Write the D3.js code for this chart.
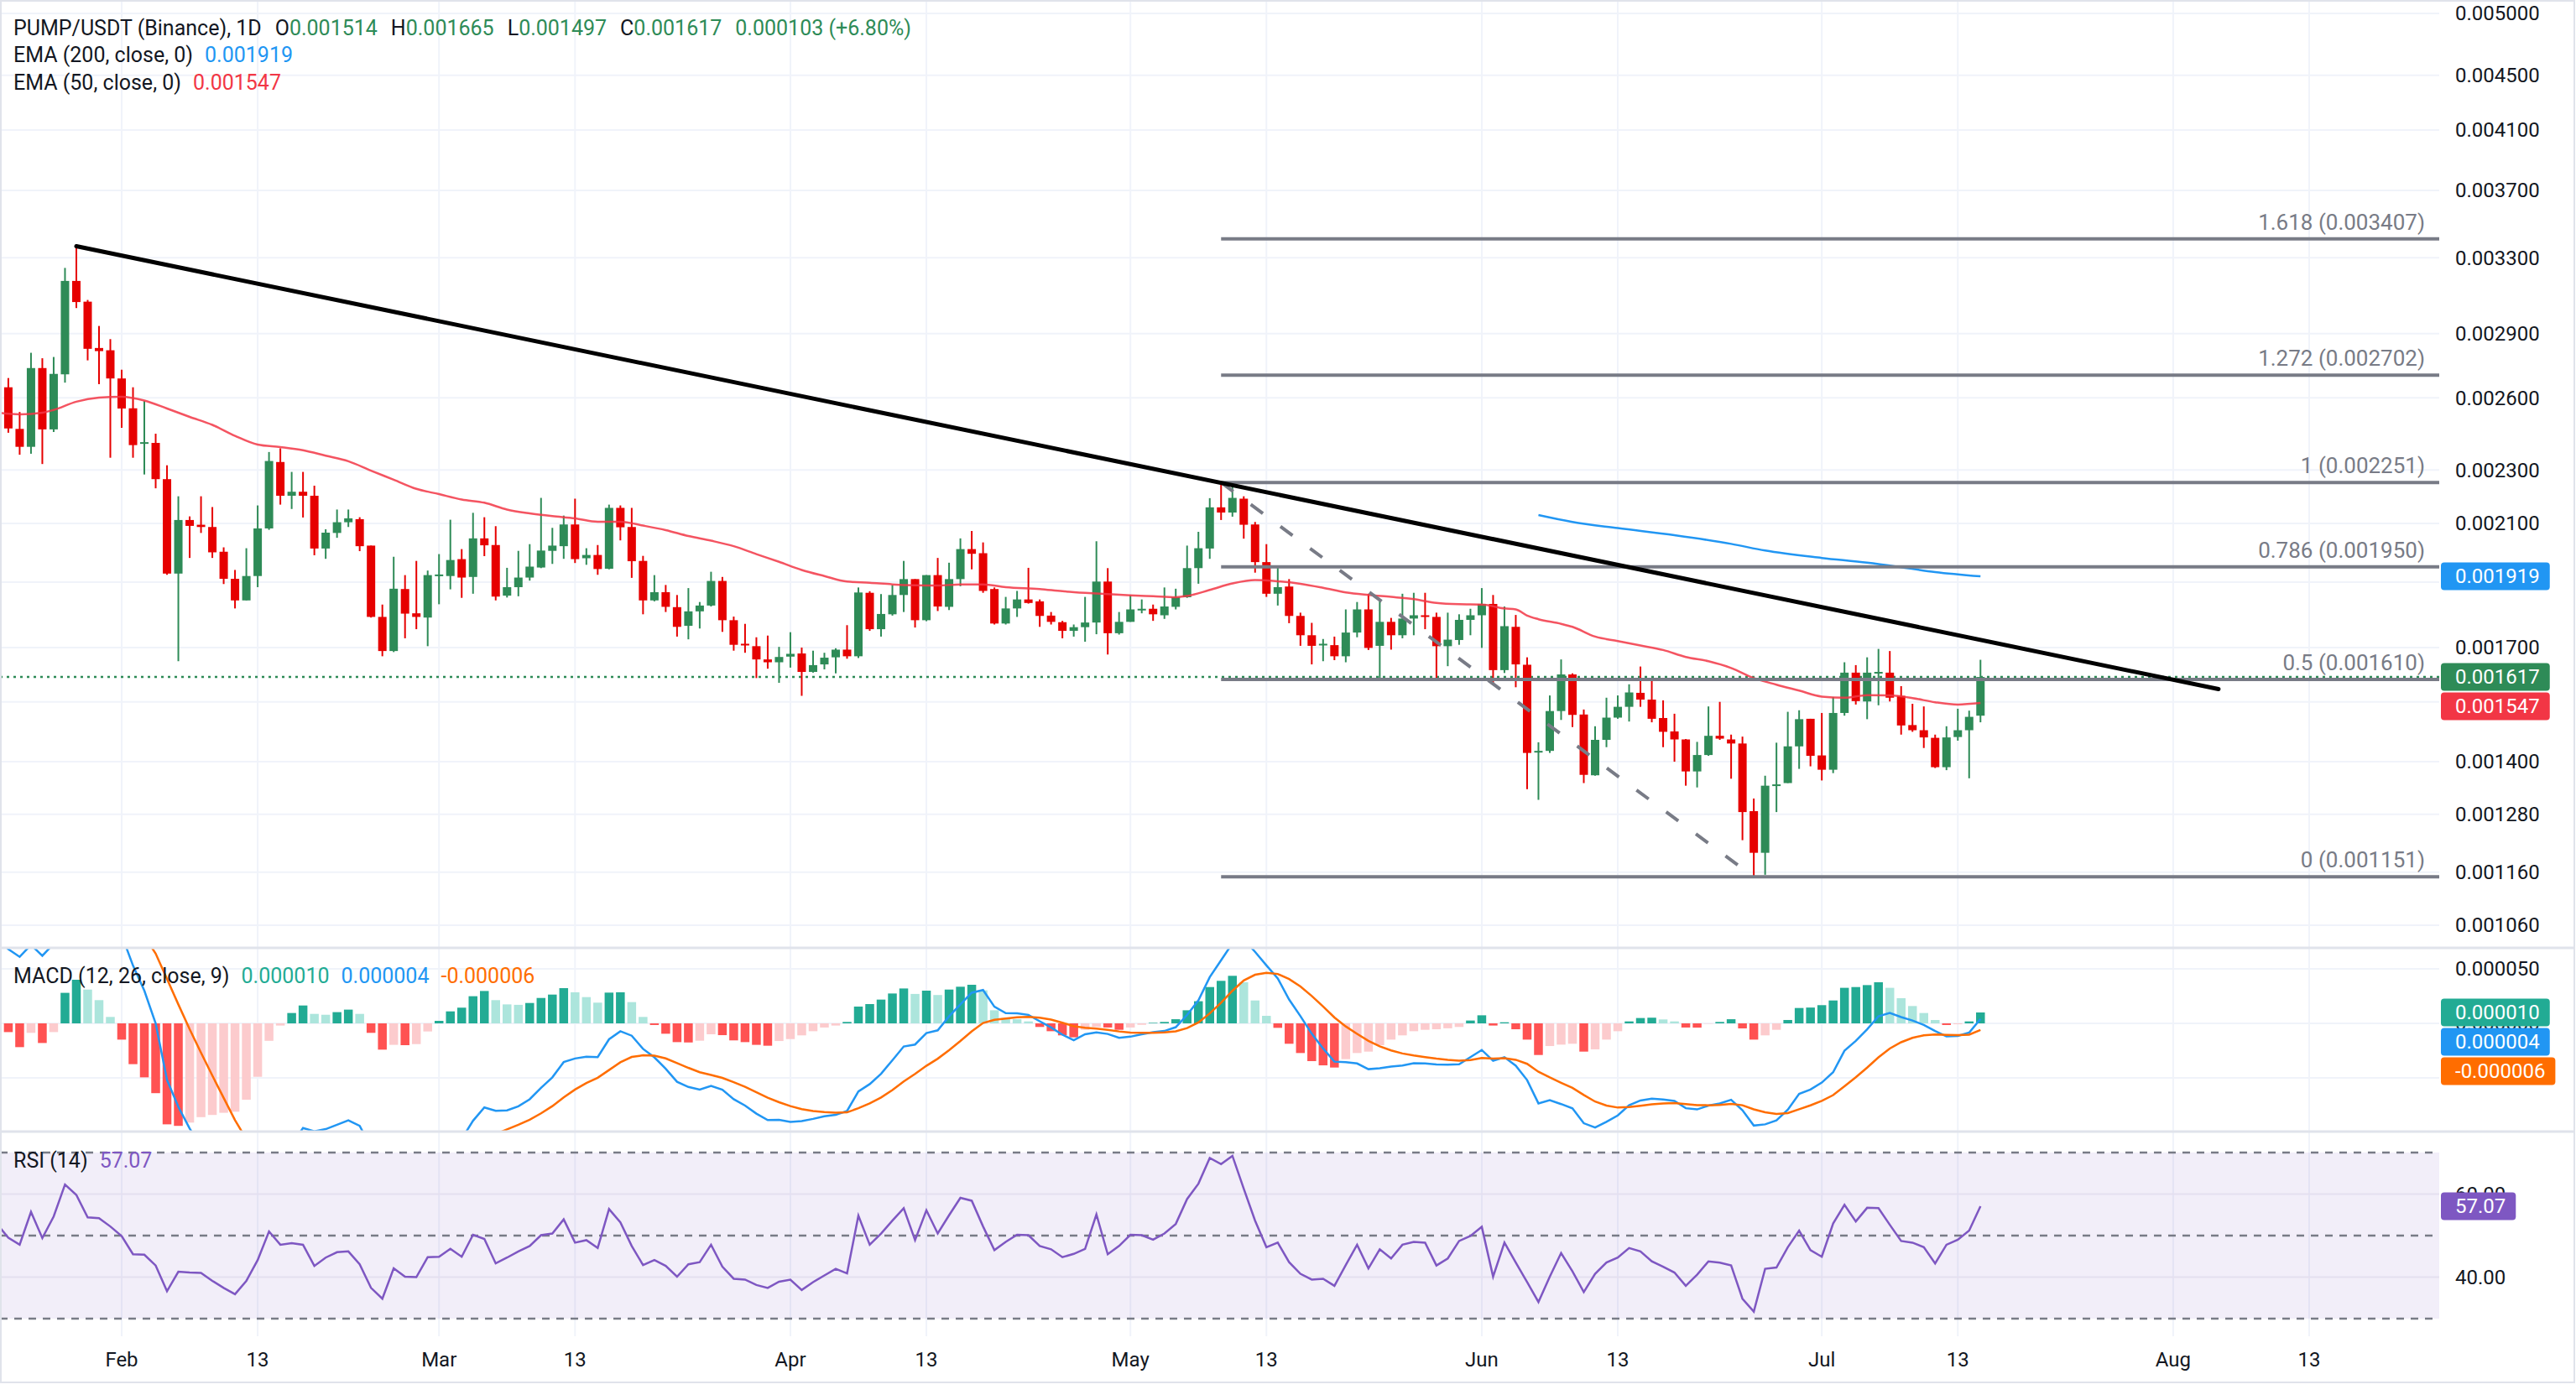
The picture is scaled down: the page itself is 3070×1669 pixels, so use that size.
<!DOCTYPE html>
<html>
<head>
<meta charset="utf-8">
<title>PUMP/USDT 1D</title>
<script src="https://cdn.jsdelivr.net/npm/d3@7"></script>
<style>
  html, body { margin: 0; padding: 0; background: #fff; }
  text { font-family: Roboto, "Noto Sans", sans-serif; }
</style>
</head>
<body>
<div class="chart"></div>
<script>
/* candles, one per day, the first one is 21 Jan 2026 */
const firstDay = new Date(Date.UTC(2026, 0, 21))
const open = [
  0.002398, 0.002647, 0.002466, 0.002392, 0.002735, 0.002464, 0.002706, 0.003172, 0.003062, 0.002830,
  0.002819, 0.002687, 0.002554, 0.002408, 0.002408, 0.002264, 0.001928, 0.002112, 0.002095, 0.002087,
  0.002001, 0.001911, 0.001842, 0.001920, 0.002082, 0.002331, 0.002201, 0.002216, 0.002201, 0.002012,
  0.002066, 0.002104, 0.002115, 0.002022, 0.001791, 0.001690, 0.001878, 0.001802, 0.001789, 0.001923,
  0.001920, 0.001976, 0.001917, 0.002047, 0.002024, 0.001857, 0.001884, 0.001915, 0.001948, 0.002004,
  0.002020, 0.002096, 0.001979, 0.001990, 0.001944, 0.002156, 0.002087, 0.001970, 0.001842, 0.001868,
  0.001821, 0.001764, 0.001808, 0.001826, 0.001904, 0.001781, 0.001711, 0.001704, 0.001666, 0.001658,
  0.001674, 0.001683, 0.001631, 0.001652, 0.001672, 0.001694, 0.001675, 0.001866, 0.001754, 0.001799,
  0.001859, 0.001910, 0.001781, 0.001923, 0.001822, 0.001910, 0.002010, 0.001996, 0.001878, 0.001771,
  0.001817, 0.001845, 0.001839, 0.001795, 0.001775, 0.001749, 0.001760, 0.001774, 0.001902, 0.001742,
  0.001776, 0.001814, 0.001816, 0.001796, 0.001822, 0.001852, 0.001946, 0.002012, 0.002158, 0.002139,
  0.002190, 0.002096, 0.001966, 0.001863, 0.001886, 0.001794, 0.001736, 0.001708, 0.001707, 0.001675,
  0.001744, 0.001814, 0.001705, 0.001776, 0.001736, 0.001786, 0.001796, 0.001791, 0.001704, 0.001722,
  0.001782, 0.001796, 0.001831, 0.001636, 0.001761, 0.001651, 0.001422, 0.001426, 0.001526, 0.001624,
  0.001517, 0.001368, 0.001453, 0.001509, 0.001537, 0.001574, 0.001556, 0.001508, 0.001474, 0.001454,
  0.001377, 0.001416, 0.001463, 0.001454, 0.001444, 0.001287, 0.001199, 0.001344, 0.001350, 0.001437,
  0.001506, 0.001415, 0.001381, 0.001521, 0.001629, 0.001551, 0.001629, 0.001629, 0.001566, 0.001490,
  0.001477, 0.001458, 0.001387, 0.001460, 0.001477, 0.001514
]
const high = [
  0.002678, 0.002689, 0.002538, 0.002807, 0.002781, 0.002787, 0.003243, 0.003365, 0.003071, 0.002938,
  0.002873, 0.002727, 0.002647, 0.002586, 0.002446, 0.002318, 0.002199, 0.002125, 0.002199, 0.002159,
  0.002016, 0.001940, 0.002013, 0.002165, 0.002371, 0.002386, 0.002292, 0.002292, 0.002239, 0.002079,
  0.002150, 0.002150, 0.002122, 0.002022, 0.001829, 0.001984, 0.001923, 0.001970, 0.001938, 0.001993,
  0.002113, 0.002010, 0.002138, 0.002122, 0.002090, 0.001947, 0.002004, 0.002027, 0.002193, 0.002084,
  0.002128, 0.002190, 0.002013, 0.002024, 0.002168, 0.002165, 0.002156, 0.001987, 0.001923, 0.001891,
  0.001859, 0.001881, 0.001837, 0.001934, 0.001917, 0.001792, 0.001770, 0.001730, 0.001735, 0.001702,
  0.001745, 0.001700, 0.001691, 0.001685, 0.001698, 0.001766, 0.001883, 0.001871, 0.001862, 0.001891,
  0.001970, 0.001910, 0.001923, 0.001980, 0.001964, 0.002047, 0.002073, 0.002033, 0.001883, 0.001853,
  0.001872, 0.001947, 0.001845, 0.001806, 0.001779, 0.001768, 0.001853, 0.002037, 0.001946, 0.001806,
  0.001859, 0.001845, 0.001829, 0.001883, 0.001879, 0.002022, 0.002070, 0.002192, 0.002251, 0.002245,
  0.002199, 0.002105, 0.002027, 0.001950, 0.001910, 0.001804, 0.001773, 0.001725, 0.001732, 0.001814,
  0.001837, 0.001863, 0.001842, 0.001788, 0.001863, 0.001866, 0.001866, 0.001804, 0.001804, 0.001799,
  0.001816, 0.001881, 0.001859, 0.001823, 0.001797, 0.001672, 0.001447, 0.001567, 0.001666, 0.001627,
  0.001530, 0.001487, 0.001561, 0.001567, 0.001597, 0.001646, 0.001612, 0.001554, 0.001519, 0.001455,
  0.001448, 0.001538, 0.001550, 0.001466, 0.001461, 0.001315, 0.001367, 0.001446, 0.001524, 0.001528,
  0.001506, 0.001521, 0.001563, 0.001658, 0.001650, 0.001672, 0.001696, 0.001690, 0.001592, 0.001545,
  0.001538, 0.001466, 0.001487, 0.001532, 0.001527, 0.001665
]
const low = [
  0.002389, 0.002450, 0.002360, 0.002364, 0.002323, 0.002453, 0.002668, 0.003029, 0.002771, 0.002661,
  0.002348, 0.002471, 0.002348, 0.002282, 0.002229, 0.001924, 0.001661, 0.001980, 0.002066, 0.001980,
  0.001894, 0.001817, 0.001842, 0.001884, 0.002077, 0.002168, 0.002152, 0.002121, 0.001989, 0.001977,
  0.002049, 0.002087, 0.002003, 0.001789, 0.001675, 0.001687, 0.001727, 0.001754, 0.001704, 0.001830,
  0.001877, 0.001850, 0.001863, 0.001986, 0.001842, 0.001851, 0.001855, 0.001905, 0.001946, 0.001960,
  0.001977, 0.001963, 0.001957, 0.001924, 0.001942, 0.002040, 0.001914, 0.001799, 0.001839, 0.001806,
  0.001732, 0.001724, 0.001756, 0.001823, 0.001746, 0.001691, 0.001685, 0.001614, 0.001640, 0.001601,
  0.001643, 0.001566, 0.001629, 0.001638, 0.001627, 0.001668, 0.001670, 0.001749, 0.001732, 0.001795,
  0.001806, 0.001759, 0.001778, 0.001809, 0.001812, 0.001887, 0.001942, 0.001866, 0.001768, 0.001768,
  0.001791, 0.001832, 0.001761, 0.001768, 0.001727, 0.001732, 0.001717, 0.001739, 0.001680, 0.001738,
  0.001776, 0.001802, 0.001779, 0.001785, 0.001814, 0.001850, 0.001895, 0.001977, 0.002112, 0.002124,
  0.002046, 0.001931, 0.001853, 0.001826, 0.001772, 0.001705, 0.001652, 0.001661, 0.001664, 0.001658,
  0.001730, 0.001693, 0.001608, 0.001694, 0.001727, 0.001736, 0.001754, 0.001614, 0.001647, 0.001708,
  0.001736, 0.001699, 0.001600, 0.001628, 0.001589, 0.001336, 0.001312, 0.001421, 0.001503, 0.001485,
  0.001350, 0.001367, 0.001435, 0.001506, 0.001499, 0.001537, 0.001497, 0.001435, 0.001400, 0.001344,
  0.001340, 0.001414, 0.001453, 0.001360, 0.001225, 0.001151, 0.001155, 0.001285, 0.001350, 0.001383,
  0.001389, 0.001356, 0.001373, 0.001514, 0.001543, 0.001505, 0.001541, 0.001551, 0.001466, 0.001473,
  0.001433, 0.001385, 0.001380, 0.001451, 0.001361, 0.001497
]
const close = [
  0.002649, 0.002468, 0.002392, 0.002735, 0.002464, 0.002708, 0.003172, 0.003060, 0.002826, 0.002815,
  0.002687, 0.002553, 0.002399, 0.002411, 0.002264, 0.001928, 0.002112, 0.002091, 0.002087, 0.001999,
  0.001911, 0.001842, 0.001920, 0.002082, 0.002335, 0.002201, 0.002216, 0.002201, 0.002012, 0.002067,
  0.002104, 0.002118, 0.002020, 0.001791, 0.001690, 0.001879, 0.001801, 0.001791, 0.001923, 0.001925,
  0.001973, 0.001915, 0.002047, 0.002023, 0.001854, 0.001884, 0.001915, 0.001951, 0.002005, 0.002022,
  0.002096, 0.001976, 0.001990, 0.001943, 0.002156, 0.002086, 0.001969, 0.001842, 0.001868, 0.001822,
  0.001761, 0.001808, 0.001826, 0.001904, 0.001781, 0.001708, 0.001708, 0.001666, 0.001658, 0.001673,
  0.001682, 0.001631, 0.001650, 0.001671, 0.001694, 0.001675, 0.001867, 0.001754, 0.001800, 0.001859,
  0.001910, 0.001781, 0.001923, 0.001823, 0.001910, 0.002010, 0.001994, 0.001872, 0.001771, 0.001817,
  0.001845, 0.001834, 0.001794, 0.001776, 0.001749, 0.001760, 0.001774, 0.001902, 0.001742, 0.001776,
  0.001814, 0.001816, 0.001799, 0.001823, 0.001852, 0.001946, 0.002013, 0.002158, 0.002139, 0.002193,
  0.002095, 0.001966, 0.001863, 0.001884, 0.001794, 0.001736, 0.001705, 0.001711, 0.001675, 0.001744,
  0.001814, 0.001699, 0.001776, 0.001736, 0.001786, 0.001796, 0.001791, 0.001704, 0.001723, 0.001782,
  0.001796, 0.001831, 0.001636, 0.001763, 0.001652, 0.001421, 0.001426, 0.001526, 0.001624, 0.001516,
  0.001369, 0.001453, 0.001509, 0.001537, 0.001575, 0.001556, 0.001506, 0.001473, 0.001454, 0.001377,
  0.001416, 0.001463, 0.001456, 0.001444, 0.001285, 0.001199, 0.001344, 0.001347, 0.001437, 0.001505,
  0.001414, 0.001381, 0.001521, 0.001629, 0.001552, 0.001629, 0.001631, 0.001561, 0.001489, 0.001477,
  0.001459, 0.001387, 0.001459, 0.001477, 0.001511, 0.001617
]

/* moving averages, read at some candles (index into the candles above) */
const ema50At = [
  0, 2, 4, 5, 7, 9, 11, 13, 15, 17, 19, 21, 23, 25, 27, 29, 31, 33, 35, 37, 39, 41, 43, 45, 47, 49,
  51, 53, 55, 57, 59, 61, 63, 65, 67, 69, 71, 73, 75, 77, 79, 81, 83, 85, 87, 89, 92, 94, 96, 98,
  100, 102, 104, 105, 107, 109, 111, 113, 115, 117, 119, 121, 123, 125, 127, 129, 131, 133, 134,
  135, 136, 138, 139, 141, 143, 145, 147, 149, 151, 153, 155, 157, 159, 161, 163, 165, 167, 169,
  171, 173, 175
]
const ema50 = [
  0.002535, 0.002528, 0.002535, 0.002547, 0.002583, 0.002601, 0.002605, 0.002588, 0.002553, 0.002517,
  0.002483, 0.002437, 0.002401, 0.002391, 0.002378, 0.002356, 0.002334, 0.002297, 0.002262, 0.002227,
  0.002207, 0.002187, 0.002175, 0.002150, 0.002136, 0.002126, 0.002118, 0.002106, 0.002106, 0.002092,
  0.002076, 0.002055, 0.002039, 0.002020, 0.001993, 0.001967, 0.001940, 0.001920, 0.001902, 0.001898,
  0.001893, 0.001890, 0.001889, 0.001893, 0.001893, 0.001884, 0.001878, 0.001871, 0.001866, 0.001862,
  0.001858, 0.001855, 0.001852, 0.001856, 0.001875, 0.001896, 0.001907, 0.001903, 0.001895, 0.001882,
  0.001867, 0.001859, 0.001853, 0.001846, 0.001834, 0.001830, 0.001829, 0.001817, 0.001814, 0.001795,
  0.001784, 0.001770, 0.001761, 0.001732, 0.001719, 0.001706, 0.001693, 0.001673, 0.001661, 0.001642,
  0.001614, 0.001596, 0.001580, 0.001564, 0.001561, 0.001568, 0.001567, 0.001560, 0.001549, 0.001543,
  0.001547
]
const ema200At = [136, 139, 143, 148, 153, 156, 161, 165, 168, 171, 175]
const ema200 = [0.002130, 0.002105, 0.002083, 0.002058, 0.002028, 0.002005, 0.001980, 0.001964, 0.001949, 0.001933, 0.001919]

/* MACD (12, 26, close, 9), in millionths of USDT, one value per candle */
const macdHist = [
  8, -8, -21.8, -8.7, -18, -8, 28, 40, 31, 21.3, 5.9,
  -14.9, -37.4, -49.5, -64, -92.6, -94, -91, -86, -84, -82, -81, -70, -49, -16, -2,
  9.5, 16.4, 8.7, 7.9, 10.3, 12.6, 8.7, -8.7, -24.1, -19.7, -20, -19, -7.4, 2.3, 11, 14.4,
  24.9, 29.7, 21.3, 17.4, 17, 18.7, 23.3, 26.4, 32.3, 28.5, 24.1, 19, 28.2, 28.5, 19.5, 5.9,
  -1.5, -9.5, -17.2, -17.5, -15.9, -10, -10.8, -15.6, -17.2, -19.7, -20.5, -16.2, -14.4, -11, -7.2, -3.8, -2,
  1.3, 15.4, 17.7, 21.8, 27.4, 32, 27, 30, 26, 31, 33.6, 35.4, 30.3, 12, 4.9, 3.8, 1.8,
  -3.3, -7.2, -11, -12.8, -5.9, -3.3, -3.8, -5.9, -3.8, -1.3,
  0.5, 1.3, 3.8, 12, 20.3, 33.3, 39, 43.6, 37.7, 21, 6.9,
  -4.1, -18.7, -27.2, -34.6, -38.5, -40.5, -32.8, -27.2, -25.9, -20, -14.9, -11, -7.2, -5.9, -5.4, -4.5, -3.3,
  2.6, 7.4, -2, 1, -5.4, -14.9, -29, -20.8, -19.5, -18.7, -25.9, -23.8, -14.9, -7.2,
  1.8, 4.9, 5.2, 3.6, 1.8, -3.8, -3.9, -0.3, 1.3, 3.8, -4.6, -14.9, -11, -5.9,
  3.1, 14.1, 14.5, 16.7, 21, 32.6, 33.3, 35.1, 37.7, 32.6, 23.1, 15.9, 9.5, 3.1, -1.5, -0.8, 1.8, 10
]
const macdLine = [
  78, 68, 61, 72, 62, 73, 114, 131, 126, 118, 104,
  81, 53, 30, 0, -51.8, -76.6, -96.4, -112.9, -131.9, -150.4, -169.7, -176.2, -167.5, -138.5, -125,
  -111.1, -96, -99, -97, -93, -89, -94, -113.6, -135, -135.5, -140.8, -144.5, -134.8, -124.5, -113, -106,
  -89.3, -77.1, -80.2, -79.8, -76, -69.6, -59.2, -49.5, -35.5, -32.2, -30.6, -30.9, -14.6, -7.2, -11.3, -23.4,
  -31.2, -41.6, -53.6, -58.3, -60.7, -57.3, -60.8, -69.5, -75.4, -82.8, -88.7, -88.5, -90.3, -89.6, -87.6, -85.2, -83.9,
  -80.3, -62.4, -55.7, -46.2, -33.8, -21.2, -19.4, -8.9, -6.4, 6.4, 17.4, 28.1, 30.6, 15.3, 9.4, 9.3, 7.8,
  1.9, -3.8, -10.4, -15.4, -10, -8.2, -9.7, -13.3, -12.2, -10,
  -8.1, -7, -3.5, 7.7, 21.1, 42.4, 57.9, 73.4, 77, 65.6, 53.2,
  41.2, 21.9, 6.6, -9.5, -23, -35.1, -35.6, -36.8, -42, -41.1, -39.7, -38.6, -36.6, -36.8, -37.7, -37.9, -37.5,
  -31, -24.4, -34.3, -31, -38.8, -52, -73.4, -70.4, -74, -77.9, -91.6, -95.5, -90.3, -84.4,
  -75, -70.7, -69.1, -69.8, -71.2, -77.8, -78.9, -75.4, -73.5, -70.1, -79.7, -93.7, -92.6, -89,
  -79.2, -64.7, -60.7, -54.3, -44.8, -25.1, -16.1, -5.5, 6.5, 9.5, 5.8, 2.6, -1.4, -7, -12, -11.5, -8.5, 4
]
const macdSignal = [
  70, 76, 83, 81, 80, 81, 86, 91, 95, 97, 98,
  96, 90, 80, 64, 40.8, 17.4, -5.4, -26.9, -47.9, -68.4, -88.7, -106.2, -118.5, -122.5, -123,
  -120.6, -112.4, -107.7, -104.9, -103.3, -101.6, -102.7, -104.9, -110.9, -115.8, -120.8, -125.5, -127.4, -126.8, -124, -120.4,
  -114.2, -106.8, -101.5, -97.2, -93, -88.3, -82.5, -75.9, -67.8, -60.7, -54.7, -49.9, -42.8, -35.7, -30.8, -29.3,
  -29.7, -32.1, -36.4, -40.8, -44.8, -47.3, -50, -53.9, -58.2, -63.1, -68.2, -72.3, -75.9, -78.6, -80.4, -81.4, -81.9,
  -81.6, -77.8, -73.4, -68, -61.2, -53.2, -46.4, -38.9, -32.4, -24.6, -16.2, -7.3, 0.3, 3.3, 4.5, 5.5, 6,
  5.2, 3.4, 0.6, -2.6, -4.1, -4.9, -5.9, -7.4, -8.4, -8.7,
  -8.6, -8.3, -7.3, -4.3, 0.8, 9.1, 18.9, 29.8, 39.3, 44.6, 46.3,
  45.3, 40.6, 33.8, 25.1, 15.5, 5.4, -2.8, -9.6, -16.1, -21.1, -24.8, -27.6, -29.4, -30.9, -32.3, -33.4, -34.2,
  -33.6, -31.8, -32.3, -32, -33.4, -37.1, -44.4, -49.6, -54.5, -59.2, -65.7, -71.7, -75.4, -77.2,
  -76.8, -75.6, -74.3, -73.4, -73, -74, -75, -75.1, -74.8, -73.9, -75.1, -78.8, -81.6, -83.1,
  -82.3, -78.8, -75.2, -71, -65.8, -57.7, -49.4, -40.6, -31.2, -23.1, -17.3, -13.3, -10.9, -10.1, -10.5, -10.7, -10.3, -6
]

/* RSI (14), one value per candle */
const rsi = [
  52.8, 49.5, 47.8, 55.7, 49.4, 54.6, 62.3, 59.8, 54.4, 54.2, 52.2,
  49.9, 45.5, 45.4, 42.8, 36.6, 41.3, 41.1, 41.0, 39.1, 37.4, 35.9, 39.1, 44.1, 51.0, 47.8,
  48.2, 47.8, 42.7, 44.7, 46.0, 46.2, 43.1, 37.4, 34.8, 42.1, 40.1, 40.0, 44.8, 44.9, 46.8, 44.9,
  50.2, 49.2, 43.3, 44.7, 46.2, 47.5, 50.1, 50.5, 53.9, 48.3, 48.9, 47.0, 56.4, 53.2, 47.5, 42.9,
  44.1, 42.7, 40.1, 43.1, 43.6, 47.8, 42.5, 39.6, 39.4, 38.1, 37.4, 38.9, 39.4, 36.9, 38.8, 40.4, 42.0,
  40.9, 54.8, 47.8, 50.5, 53.6, 56.6, 48.9, 56.1, 50.5, 54.9, 59.1, 58.4, 52.2, 46.5, 48.5, 50.2, 50.1,
  47.5, 46.7, 44.8, 45.6, 46.8, 55.1, 45.5, 47.5, 50.2, 50.1,
  49.0, 50.5, 52.8, 58.8, 62.5, 68.7, 67.2, 69.2, 61.3, 53.6, 47.2,
  48.3, 43.6, 40.8, 39.4, 39.6, 37.9, 42.9, 47.8, 42.1, 46.7, 44.5, 47.8, 48.5, 48.3, 42.8, 44.5, 48.7,
  49.9, 52.1, 40.1, 48.3, 43.5, 38.8, 34.0, 40.1, 45.8, 41.4, 36.4, 40.8, 43.5, 44.7,
  47.0, 46.2, 43.8, 42.5, 41.1, 37.9, 40.6, 43.8, 43.5, 42.8, 34.8, 31.7, 42.0, 42.3,
  47.2, 51.2, 46.5, 44.9, 52.9, 57.4, 53.4, 56.7, 56.6, 52.6, 48.7, 48.3, 47.2, 43.3, 47.8, 49.0, 51.2, 57.07
]

/* drawings on the price pane */
const trendDates = ['2026-01-28', '2026-08-05']
const trendPrices = [0.003365, 0.001584]
const fibStart = '2026-05-09'
const fibRatios = ['1.618', '1.272', '1', '0.786', '0.5', '0']
const fibPrices = [0.003407, 0.002702, 0.002251, 0.001950, 0.001610, 0.001151]
const swingDates = ['2026-05-09', '2026-06-25']
const swingPrices = [0.002251, 0.001151]

/* axis ticks (grid lines); labels hidden behind a value badge are not written */
const priceTicks = [0.005, 0.0045, 0.0041, 0.0037, 0.0033, 0.0029, 0.0026, 0.0023, 0.0021, 0.0019,
  0.0017, 0.00155, 0.0014, 0.00128, 0.00116, 0.00106]
const macdTicks = [50, 0, -50]
const rsiTicks = [60, 40]
const rsiLevels = [70, 50, 30]
const timeTicks = ['2026-02-01', '2026-02-13', '2026-03-01', '2026-03-13', '2026-04-01', '2026-04-13',
  '2026-05-01', '2026-05-13', '2026-06-01', '2026-06-13', '2026-07-01', '2026-07-13', '2026-08-01', '2026-08-13']
const timeLabels = ['Feb', '13', 'Mar', '13', 'Apr', '13', 'May', '13', 'Jun', '13', 'Jul', '13', 'Aug', '13']
const symbol = 'PUMP/USDT (Binance), 1D'

/* layout */
const width = 3070
const height = 1669
const plotW = 2907
const axisX = 2926
const pricePane = [0, 1130]
const macdPane = [1130, 1349]
const rsiPane = [1349, 1593]

const ink = '#131722'
const grid = '#f0f3fa'
const border = '#e0e3eb'
const up = '#2e8b57'
const down = '#e60000'
const gray = '#787b86'
const blue = '#2196f3'
const orange = '#ff6d00'
const purple = '#7e57c2'
const emaRed = '#f23645'

const n = close.length
const day = s => new Date(s + 'T00:00:00Z')
const dates = d3.range(n).map(i => d3.utcDay.offset(firstDay, i))

const x = d3.scaleUtc().domain([day('2026-02-01'), day('2026-08-13')]).range([145, 2752])
const y = d3.scaleLog().domain([0.00106, 0.005]).range([1103, 16])
const yMacd = d3.scaleLinear().domain([-50, 50]).range([1285, 1155])
const yRsi = d3.scaleLinear().domain([30, 70]).range([1572, 1374])

const svg = d3.select('.chart')
    .append('svg')
    .attr('width', width)
    .attr('height', height)
    .style('display', 'block')
    .attr('font-size', 24)

svg.append('rect').attr('width', width).attr('height', height).attr('fill', '#fff')
const defs = svg.append('defs')

/* a group clipped to one pane */
function paneGroup(id, pane) {
    defs.append('clipPath').attr('id', id)
        .append('rect')
        .attr('x', 0).attr('y', pane[0])
        .attr('width', plotW).attr('height', pane[1] - pane[0])
    return svg.append('g').attr('clip-path', 'url(#' + id + ')')
}

/* grid */
const gGrid = svg.append('g').attr('stroke', grid).attr('stroke-width', 2)
gGrid.selectAll('line.v').data(timeTicks).join('line')
    .attr('x1', d => x(day(d))).attr('x2', d => x(day(d)))
    .attr('y1', 0).attr('y2', rsiPane[1])
gGrid.selectAll('line.p').data(priceTicks).join('line')
    .attr('x1', 0).attr('x2', plotW)
    .attr('y1', d => y(d)).attr('y2', d => y(d))
gGrid.selectAll('line.m').data(macdTicks).join('line')
    .attr('x1', 0).attr('x2', plotW)
    .attr('y1', d => yMacd(d)).attr('y2', d => yMacd(d))

/* rsi band under everything of its pane */
svg.append('rect')
    .attr('x', 0).attr('y', yRsi(70))
    .attr('width', plotW).attr('height', yRsi(30) - yRsi(70))
    .attr('fill', purple).attr('fill-opacity', 0.1)
svg.append('g').attr('stroke', '#e4dff0').attr('stroke-width', 2)
    .selectAll('line').data(rsiTicks).join('line')
    .attr('x1', 0).attr('x2', plotW)
    .attr('y1', d => yRsi(d)).attr('y2', d => yRsi(d))

/* ---------- price pane ---------- */
const gPrice = paneGroup('clip-price', pricePane)

// last price, dotted
gPrice.append('line')
    .attr('x1', 0).attr('x2', plotW)
    .attr('y1', y(close[n - 1])).attr('y2', y(close[n - 1]))
    .attr('stroke', up).attr('stroke-width', 2.5)
    .attr('stroke-dasharray', '3 5')

const candles = gPrice.append('g')
    .selectAll('g').data(d3.range(n)).join('g')
    .attr('fill', i => close[i] >= open[i] ? up : down)
    .attr('stroke', i => close[i] >= open[i] ? up : down)
candles.append('line')
    .attr('x1', i => x(dates[i])).attr('x2', i => x(dates[i]))
    .attr('y1', i => y(high[i])).attr('y2', i => y(low[i]))
    .attr('stroke-width', 2)
candles.append('rect')
    .attr('stroke', 'none')
    .attr('x', i => x(dates[i]) - 5)
    .attr('width', 10)
    .attr('y', i => y(Math.max(open[i], close[i])))
    .attr('height', i => Math.max(2, Math.abs(y(open[i]) - y(close[i]))))

const emaPath = d3.line()
    .x(d => x(dates[d[0]]))
    .y(d => y(d[1]))
    .curve(d3.curveMonotoneX)
gPrice.append('path')
    .datum(ema50At.map((k, i) => [k, ema50[i]]))
    .attr('d', emaPath)
    .attr('fill', 'none').attr('stroke', emaRed).attr('stroke-opacity', 0.85).attr('stroke-width', 2.5)
gPrice.append('path')
    .datum(ema200At.map((k, i) => [k, ema200[i]]))
    .attr('d', emaPath)
    .attr('fill', 'none').attr('stroke', blue).attr('stroke-width', 2.5)

// fibonacci levels
const fibX = x(day(fibStart))
gPrice.selectAll('line.fib').data(fibPrices).join('line')
    .attr('x1', fibX).attr('x2', plotW)
    .attr('y1', d => y(d)).attr('y2', d => y(d))
    .attr('stroke', gray).attr('stroke-width', 4)
gPrice.selectAll('text.fib').data(fibPrices).join('text')
    .attr('x', 2890).attr('y', d => y(d) - 20).attr('dy', '0.35em')
    .attr('text-anchor', 'end').attr('fill', gray).attr('font-size', 26)
    .text((d, i) => fibRatios[i] + ' (' + d.toFixed(6) + ')')

// swing high to swing low, dashed
gPrice.append('line')
    .attr('x1', x(day(swingDates[0]))).attr('y1', y(swingPrices[0]))
    .attr('x2', x(day(swingDates[1]))).attr('y2', y(swingPrices[1]))
    .attr('stroke', gray).attr('stroke-width', 4).attr('stroke-dasharray', '18 26')

// falling trendline
gPrice.append('line')
    .attr('x1', x(day(trendDates[0]))).attr('y1', y(trendPrices[0]))
    .attr('x2', x(day(trendDates[1]))).attr('y2', y(trendPrices[1]))
    .attr('stroke', '#000').attr('stroke-width', 5).attr('stroke-linecap', 'round')

/* ---------- macd pane ---------- */
const gMacd = paneGroup('clip-macd', macdPane)

function histColor(i) {
    const v = macdHist[i]
    const prev = i > 0 ? macdHist[i - 1] : v
    if (v >= 0) return v >= prev ? '#22ab94' : '#ace5dc'
    return v <= prev ? '#ff5252' : '#fccbcd'
}
gMacd.selectAll('rect').data(d3.range(n)).join('rect')
    .attr('x', i => x(dates[i]) - 5.25)
    .attr('width', 10.5)
    .attr('y', i => Math.min(yMacd(0), yMacd(macdHist[i])))
    .attr('height', i => Math.abs(yMacd(macdHist[i]) - yMacd(0)))
    .attr('fill', histColor)

const macdPath = d3.line().x((d, i) => x(dates[i])).y(d => yMacd(d))
gMacd.append('path').datum(macdLine).attr('d', macdPath)
    .attr('fill', 'none').attr('stroke', blue).attr('stroke-width', 2.5)
gMacd.append('path').datum(macdSignal).attr('d', macdPath)
    .attr('fill', 'none').attr('stroke', orange).attr('stroke-width', 2.5)

/* ---------- rsi pane ---------- */
const gRsi = paneGroup('clip-rsi', rsiPane)
gRsi.selectAll('line').data(rsiLevels).join('line')
    .attr('x1', 0).attr('x2', plotW)
    .attr('y1', d => yRsi(d)).attr('y2', d => yRsi(d))
    .attr('stroke', gray).attr('stroke-width', 2.5).attr('stroke-dasharray', '9 8')
gRsi.append('path').datum(rsi)
    .attr('d', d3.line().x((d, i) => x(dates[i])).y(d => yRsi(d)))
    .attr('fill', 'none').attr('stroke', purple).attr('stroke-width', 2.5)

/* ---------- frame and separators ---------- */
const gFrame = svg.append('g').attr('stroke', border)
gFrame.append('rect')
    .attr('x', 1).attr('y', 1).attr('width', 3067).attr('height', 1647)
    .attr('fill', 'none').attr('stroke-width', 2)
gFrame.selectAll('line').data([macdPane[0], rsiPane[0]]).join('line')
    .attr('x1', 0).attr('x2', 3068)
    .attr('y1', d => d).attr('y2', d => d)
    .attr('stroke-width', 3)

/* ---------- value badges on the right scale, pushed apart when they overlap ---------- */
function placeBadges(list) {
    list.sort((a, b) => a.y - b.y)
    let prev = -Infinity
    list.forEach(b => {
        b.yc = Math.max(b.y, prev + 35)
        prev = b.yc
    })
    return list
}
const priceBadges = placeBadges([
    { y: y(ema200[ema200.length - 1]), text: ema200[ema200.length - 1].toFixed(6), color: blue },
    { y: y(close[n - 1]), text: close[n - 1].toFixed(6), color: up },
    { y: y(ema50[ema50.length - 1]), text: ema50[ema50.length - 1].toFixed(6), color: emaRed }
])
const macdBadges = placeBadges([
    { y: yMacd(macdHist[n - 1]), text: (macdHist[n - 1] * 1e-6).toFixed(6), color: '#22ab94' },
    { y: yMacd(macdLine[n - 1]), text: (macdLine[n - 1] * 1e-6).toFixed(6), color: blue },
    { y: yMacd(macdSignal[n - 1]), text: (macdSignal[n - 1] * 1e-6).toFixed(6), color: orange }
])
const rsiBadges = placeBadges([{ y: yRsi(rsi[n - 1]), text: rsi[n - 1].toFixed(2), color: purple }])

// a tick label fully under a badge is not shown (as on the reference)
const covered = (yy, list) => list.some(b => Math.abs(b.yc - yy) < 12)

/* ---------- axes ---------- */
const gAxis = svg.append('g').attr('fill', ink)
gAxis.selectAll('text.p').data(priceTicks.filter(d => !covered(y(d), priceBadges))).join('text')
    .attr('x', axisX).attr('y', d => y(d)).attr('dy', '0.35em')
    .text(d => d.toFixed(6))
gAxis.selectAll('text.m').data(macdTicks.filter(d => !covered(yMacd(d), macdBadges))).join('text')
    .attr('x', axisX).attr('y', d => yMacd(d)).attr('dy', '0.35em')
    .text(d => (d * 1e-6).toFixed(6))
gAxis.selectAll('text.r').data(rsiTicks).join('text')
    .attr('x', axisX).attr('y', d => yRsi(d)).attr('dy', '0.35em')
    .text(d => d.toFixed(2))
gAxis.selectAll('text.t').data(timeTicks).join('text')
    .attr('x', d => x(day(d))).attr('y', 1621).attr('dy', '0.35em')
    .attr('text-anchor', 'middle')
    .text((d, i) => timeLabels[i])

function drawBadges(list) {
    list.forEach(b => {
        const g = svg.append('g')
        const t = g.append('text')
            .attr('x', axisX).attr('y', b.yc).attr('dy', '0.35em')
            .attr('fill', '#fff').text(b.text)
        const w = t.node().getComputedTextLength()
        g.insert('rect', 'text')
            .attr('x', 2909).attr('y', b.yc - 16.5)
            .attr('width', w + 29).attr('height', 33)
            .attr('rx', 4).attr('fill', b.color)
    })
}
drawBadges(priceBadges)
drawBadges(macdBadges)
drawBadges(rsiBadges)

/* ---------- legends ---------- */
const last = n - 1
const diff = close[last] - open[last]
const legend = svg.append('g').attr('font-size', 25).attr('fill', ink)
const row1 = legend.append('text').attr('x', 16).attr('y', 33).attr('dy', '0.35em')
row1.append('tspan').text(symbol)
;[['O', open], ['H', high], ['L', low], ['C', close]].forEach(([k, arr]) => {
    row1.append('tspan').attr('dx', 16).text(k)
    row1.append('tspan').attr('fill', up).text(arr[last].toFixed(6))
})
row1.append('tspan').attr('dx', 16).attr('fill', up)
    .text(diff.toFixed(6) + ' (+' + (diff / open[last] * 100).toFixed(2) + '%)')

function legendRow(yy, label, values) {
    const t = legend.append('text').attr('x', 16).attr('y', yy).attr('dy', '0.35em')
    t.append('tspan').text(label)
    values.forEach(v => t.append('tspan').attr('dx', 14).attr('fill', v[1]).text(v[0]))
}
legendRow(65, 'EMA (200, close, 0)', [[ema200[ema200.length - 1].toFixed(6), blue]])
legendRow(98, 'EMA (50, close, 0)', [[ema50[ema50.length - 1].toFixed(6), emaRed]])
legendRow(1163, 'MACD (12, 26, close, 9)', [
    [(macdHist[last] * 1e-6).toFixed(6), '#22ab94'],
    [(macdLine[last] * 1e-6).toFixed(6), blue],
    [(macdSignal[last] * 1e-6).toFixed(6), orange]
])
legendRow(1383, 'RSI (14)', [[rsi[last].toFixed(2), purple]])
</script>
</body>
</html>
